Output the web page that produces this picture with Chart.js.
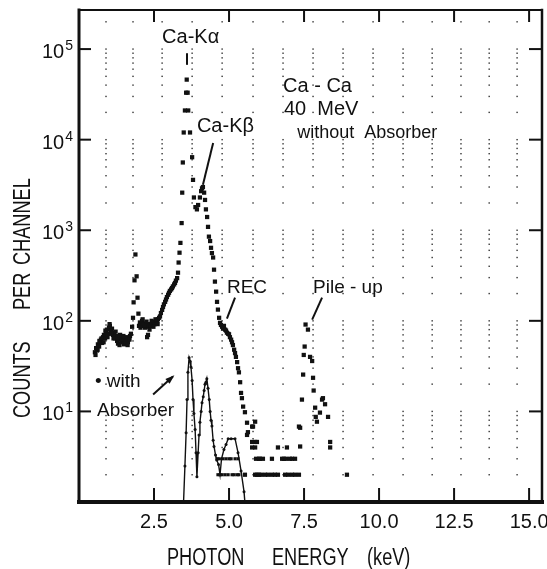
<!DOCTYPE html>
<html>
<head>
<meta charset="utf-8">
<script src="https://cdn.jsdelivr.net/npm/chart.js@4.4.1/dist/chart.umd.min.js"></script>
<style>
  body { margin: 0; background: #fff; }
  canvas { display: block; }
</style>
</head>
<body>
<canvas id="spectrum" width="547" height="569"></canvas>
<script>
// Ca-Ca 40 MeV x-ray spectrum: counts per channel vs photon energy (keV)

// without absorber
var mainEnergy = [
  0.53, 0.57, 0.6, 0.63, 0.67, 0.7, 0.73, 0.77, 0.8, 0.83, 0.87, 0.9, 0.93, 0.97, 1.0, 1.03, 1.07, 1.1, 1.13,
  1.17, 1.2, 1.23, 1.27, 1.3, 1.33, 1.37, 1.4, 1.43, 1.47, 1.5, 1.53, 1.57, 1.6, 1.63, 1.67, 1.7, 1.73,
  0.55, 0.62, 0.68, 0.75, 0.82, 0.88, 0.95, 1.02, 1.08, 1.15, 1.22, 1.28, 1.35, 1.42, 1.48, 1.55, 1.62, 1.68,
  1.77, 1.8, 1.82, 1.85, 1.88, 1.92, 1.95, 1.98, 2.0,
  2.03, 2.07, 2.1, 2.13, 2.17, 2.2, 2.23, 2.27, 2.3, 2.33, 2.37, 2.4, 2.43, 2.47, 2.5, 2.53, 2.57, 2.6, 2.63, 2.67,
  2.05, 2.12, 2.18, 2.25, 2.35, 2.42, 2.48, 2.55, 2.62,
  2.7, 2.73, 2.77, 2.8, 2.83, 2.87, 2.9, 2.93, 2.97, 3.0, 3.03, 3.07, 3.1, 3.13, 3.17, 3.2, 3.23, 3.27, 3.3, 3.32, 3.35, 3.38,
  3.42, 3.44, 3.46, 3.49, 3.53, 3.57, 3.59, 3.62, 3.64, 3.7, 3.77, 3.8, 3.83, 3.88, 3.93, 3.97, 4.03, 4.07, 4.1, 4.13,
  4.17, 4.2, 4.23, 4.27, 4.3, 4.33, 4.37, 4.4, 4.43, 4.47, 4.5, 4.53, 4.57, 4.6, 4.63, 4.67,
  4.7, 4.73, 4.77, 4.8, 4.83, 4.87, 4.9, 4.93, 4.97, 5.0, 5.03, 5.07, 5.1, 5.13, 5.17, 5.2, 5.23, 5.27, 5.3, 5.33,
  5.37, 5.4, 5.43, 5.47, 5.53, 5.6, 5.6, 5.63, 5.77, 5.8, 5.87, 5.77, 5.87, 5.93, 5.77, 5.87,
  5.9, 6.0, 6.03, 6.13, 6.43, 6.77, 6.83, 6.9, 7.03, 7.1, 7.2,
  5.53, 5.87, 5.93, 6.0, 6.07, 6.2, 6.3, 6.43, 6.53, 6.63, 6.87, 6.97, 7.1, 7.2, 7.33, 8.93,
  6.63, 6.93,
  7.33, 7.37, 7.37, 7.43, 7.47, 7.49, 7.52, 7.55, 7.63, 7.7, 7.77, 7.8, 7.82, 7.87, 7.89, 7.93,
  8.03, 8.1, 8.13, 8.2, 8.3, 8.37, 8.37
];
var mainCounts = [
  45, 50, 47, 55, 52, 58, 62, 57, 66, 70, 64, 74, 80, 72, 84, 88, 78, 82, 70,
  74, 64, 68, 60, 56, 62, 70, 66, 58, 62, 55, 64, 60, 66, 58, 64, 68, 72,
  42, 48, 60, 64, 58, 78, 66, 92, 72, 64, 76, 66, 54, 62, 68, 56, 54, 62,
  86, 108, 160, 280, 540, 310, 180, 120, 88,
  96, 92, 100, 88, 94, 84, 90, 66, 70, 86, 92, 88, 95, 90, 97, 92, 100, 96, 104, 108,
  84, 104, 90, 98, 80, 100, 86, 104, 92,
  112, 122, 132, 142, 152, 162, 172, 183, 194, 204, 214, 222, 230, 240, 252, 262, 278, 296, 340, 440, 565, 725,
  1200, 2600, 5600, 12000, 21000, 33000, 46000, 33000, 21000, 12000, 6400, 3600, 2300, 1800, 1700, 1900, 2300, 2700, 2900, 3000,
  2600, 2160, 1700, 1400, 1090, 850, 760, 640, 560, 500, 367, 271, 210, 162, 133, 108,
  95, 90, 86, 82, 88, 80, 78, 74, 72, 71, 66, 62, 58, 54, 48, 44, 40, 35, 30, 27,
  21, 16, 14, 11.3, 9.8, 7.5, 5.5, 5.9, 6.8, 6.8, 7.7, 4.6, 4.6, 4.6, 4.0, 4.0,
  3, 3, 3, 3, 3, 3, 3, 3, 3, 3, 3,
  2, 2, 2, 2, 2, 2, 2, 2, 2, 2, 2, 2, 2, 2, 2, 2,
  4, 4,
  6.8, 4.1, 6.6, 13.5, 25.5, 42, 52, 91, 80, 40, 36, 23.5, 17, 11, 8.7, 7.7,
  9.7, 13.5, 14, 12, 8.7, 4.6, 4.0
];

// with absorber (joined by a line)
var absEnergy = [
  3.45, 3.53, 3.57, 3.6, 3.63, 3.67, 3.7, 3.73, 3.77, 3.8, 3.83, 3.87, 3.9, 3.93,
  3.97, 4.0, 4.03, 4.07, 4.1, 4.14, 4.17, 4.2, 4.23, 4.26, 4.3, 4.34, 4.37, 4.4, 4.43, 4.47, 4.5,
  4.55, 4.59, 4.65, 4.7, 4.75, 4.83, 4.9, 4.97, 5.07, 5.2, 5.3, 5.4, 5.5, 5.6
];
var absCounts = [
  0.5, 2.5, 5.8, 13.5, 27, 39, 36, 31, 22, 13.5, 9.5, 6.3, 3.5, 1.9,
  3.5, 5.5, 7.6, 10, 12.5, 14.5, 17, 20, 21, 23, 18, 13.5, 10, 8, 6.9, 4.8, 4.1,
  3.3, 2.9, 2.6, 2.0, 3, 3.8, 4.3, 5, 5, 5, 3.5, 2.2, 1.3, 0.5
];

// with absorber, single low-count channels
var absLowEnergy = [4.6, 4.67, 4.8, 4.9, 5.0, 5.07, 5.2, 5.3, 4.63, 4.7, 4.77, 4.87, 4.97, 5.1, 5.17, 5.27, 5.33];
var absLowCounts = [3, 3, 3, 3, 3, 3, 3, 3, 2, 2, 2, 2, 2, 2, 2, 2, 2];

var xTicks = [2.5, 5, 7.5, 10, 12.5, 15];
var yTicks = [10, 100, 1000, 10000, 100000];
// columns of the dotted paper grid (keV)
var dotColumns = [0.9, 1.8, 2.77, 3.77, 4.77, 5.8, 6.8, 7.8, 8.8, 9.8, 10.8, 11.77, 12.73, 13.67, 14.6];

// annotations, in data units
var notes = [
  {text: 'Ca-K\u03b1', x: 2.77, y: 1.16e5, size: 20},
  {text: 'Ca-K\u03b2', x: 3.93, y: 1.22e4, size: 20},
  {text: 'Ca - Ca', x: 6.8, y: 3.35e4, size: 20},
  {text: '40  MeV', x: 6.83, y: 1.87e4, size: 20},
  {text: 'without  Absorber', x: 7.27, y: 1.04e4, size: 18},
  {text: 'REC', x: 4.93, y: 205, size: 19},
  {text: 'Pile - up', x: 7.8, y: 205, size: 19},
  {text: '\u2022 with', x: 0.53, y: 18.4, size: 19},
  {text: 'Absorber', x: 0.6, y: 8.8, size: 19}
];
var pointers = [
  {from: [3.6, 9.0e4], to: [3.6, 6.7e4]},
  {from: [4.47, 9200], to: [4.13, 3170]},
  {from: [5.2, 180], to: [4.93, 106]},
  {from: [8.1, 180], to: [7.77, 103]},
  {from: [2.47, 15.4], to: [3.13, 24.3], arrow: true}
];

var FONT = "'Liberation Sans', Arial, sans-serif";
var INK = '#111';

function pairs(xs, ys) {
    return xs.map(function (v, i) { return {x: v, y: ys[i]}; });
}

var paperPlugin = {
    id: 'paper',
    beforeDatasetsDraw: function (chart) {
        var ctx = chart.ctx, xs = chart.scales.x, ys = chart.scales.y;
        ctx.save();
        ctx.fillStyle = '#333';
        dotColumns.forEach(function (col) {
            var px = xs.getPixelForValue(col);
            for (var d = 1; d <= 100000; d *= 10) {
                for (var m = 1; m <= 9; m++) {
                    var v = d * m;
                    if (v <= 1 || v > ys.max) continue;
                    ctx.fillRect(px - 0.7, ys.getPixelForValue(v) - 0.7, 1.4, 1.4);
                }
            }
        });
        ctx.restore();
    },
    afterDraw: function (chart) {
        var ctx = chart.ctx, a = chart.chartArea, xs = chart.scales.x, ys = chart.scales.y;
        ctx.save();
        ctx.strokeStyle = INK;
        ctx.fillStyle = INK;
        ctx.lineCap = 'square';

        function line(x1, y1, x2, y2, w) {
            ctx.lineWidth = w;
            ctx.beginPath();
            ctx.moveTo(x1, y1);
            ctx.lineTo(x2, y2);
            ctx.stroke();
        }
        // frame
        line(a.left, a.top, a.left, a.bottom, 3);
        line(a.left, a.bottom, a.right, a.bottom, 4);
        line(a.left, a.top, a.right, a.top, 2);
        line(a.right, a.top, a.right, a.bottom, 2.5);
        // inward ticks
        xTicks.forEach(function (t) {
            var px = xs.getPixelForValue(t);
            line(px, a.bottom, px, a.bottom - 13, 2);
            line(px, a.top, px, a.top + 11, 2);
        });
        yTicks.forEach(function (t) {
            var py = ys.getPixelForValue(t);
            line(a.left, py, a.left + 11, py, 2);
            line(a.right, py, a.right - 12, py, 2);
        });

        // y tick labels: 10 with a raised exponent
        ctx.textAlign = 'right';
        ctx.textBaseline = 'alphabetic';
        yTicks.forEach(function (t) {
            var py = ys.getPixelForValue(t);
            var exp = String(Math.round(Math.log10(t)));
            ctx.font = '14px ' + FONT;
            var ew = ctx.measureText(exp).width;
            ctx.fillText(exp, a.left - 6, py + 1);
            ctx.font = '20px ' + FONT;
            ctx.fillText('10', a.left - 7 - ew, py + 9);
        });

        // pointers
        ctx.lineCap = 'butt';
        pointers.forEach(function (p) {
            var x1 = xs.getPixelForValue(p.from[0]), y1 = ys.getPixelForValue(p.from[1]);
            var x2 = xs.getPixelForValue(p.to[0]), y2 = ys.getPixelForValue(p.to[1]);
            line(x1, y1, x2, y2, 2);
            if (p.arrow) {
                var ang = Math.atan2(y2 - y1, x2 - x1);
                ctx.beginPath();
                ctx.moveTo(x2 + 2 * Math.cos(ang), y2 + 2 * Math.sin(ang));
                ctx.lineTo(x2 - 8 * Math.cos(ang - 0.4), y2 - 8 * Math.sin(ang - 0.4));
                ctx.lineTo(x2 - 8 * Math.cos(ang + 0.4), y2 - 8 * Math.sin(ang + 0.4));
                ctx.closePath();
                ctx.fill();
            }
        });

        // annotation text
        ctx.textAlign = 'left';
        notes.forEach(function (n) {
            ctx.font = n.size + 'px ' + FONT;
            ctx.fillText(n.text, xs.getPixelForValue(n.x), ys.getPixelForValue(n.y));
        });

        // axis titles, condensed lettering
        ctx.font = '23px ' + FONT;
        ctx.save();
        ctx.translate(0, 565);
        ctx.scale(0.79, 1);
        ctx.fillText('PHOTON', 167 / 0.79, 0);
        ctx.fillText('ENERGY', 272 / 0.79, 0);
        ctx.fillText('(keV)', 367 / 0.79, 0);
        ctx.restore();
        ctx.translate(30, 418);
        ctx.rotate(-Math.PI / 2);
        ctx.scale(0.79, 1);
        ctx.fillText('COUNTS', 0, 0);
        ctx.fillText('PER', 108 / 0.79, 0);
        ctx.fillText('CHANNEL', 153 / 0.79, 0);
        ctx.restore();
    }
};

new Chart(document.getElementById('spectrum'), {
    type: 'scatter',
    data: {
        datasets: [
            {
                label: 'without Absorber',
                data: pairs(mainEnergy, mainCounts),
                pointStyle: 'rect',
                pointRadius: 3,
                backgroundColor: INK,
                borderWidth: 0,
                showLine: false
            },
            {
                label: 'with Absorber',
                data: pairs(absEnergy, absCounts),
                showLine: true,
                borderColor: INK,
                borderWidth: 1.4,
                pointRadius: 1.5,
                pointBackgroundColor: INK,
                pointBorderWidth: 0
            },
            {
                label: 'with Absorber (low)',
                data: pairs(absLowEnergy, absLowCounts),
                pointStyle: 'rect',
                pointRadius: 2.2,
                backgroundColor: INK,
                borderWidth: 0,
                showLine: false
            }
        ]
    },
    options: {
        responsive: false,
        animation: false,
        layout: {padding: {top: 10, right: 5, left: 0, bottom: 0}},
        plugins: {
            legend: {display: false},
            tooltip: {enabled: false}
        },
        scales: {
            x: {
                type: 'linear',
                min: 0,
                max: 15.43,
                afterBuildTicks: function (s) {
                    s.ticks = xTicks.map(function (v) { return {value: v}; });
                },
                afterFit: function (s) {
                    s.height = 67;
                    s.paddingLeft = 0;
                    s.paddingRight = 0;
                },
                ticks: {
                    callback: function (v) { return v.toFixed(1); },
                    font: {family: FONT, size: 20},
                    color: INK,
                    padding: 8,
                    maxRotation: 0
                },
                grid: {display: false, drawTicks: false},
                border: {display: false}
            },
            y: {
                type: 'logarithmic',
                min: 1,
                max: 2.7e5,
                afterBuildTicks: function (s) {
                    s.ticks = yTicks.map(function (v) { return {value: v}; });
                },
                afterFit: function (s) {
                    s.width = 79;
                    s.paddingTop = 0;
                    s.paddingBottom = 0;
                },
                ticks: {display: false},
                grid: {display: false, drawTicks: false},
                border: {display: false}
            }
        }
    },
    plugins: [paperPlugin]
});
</script>
</body>
</html>
